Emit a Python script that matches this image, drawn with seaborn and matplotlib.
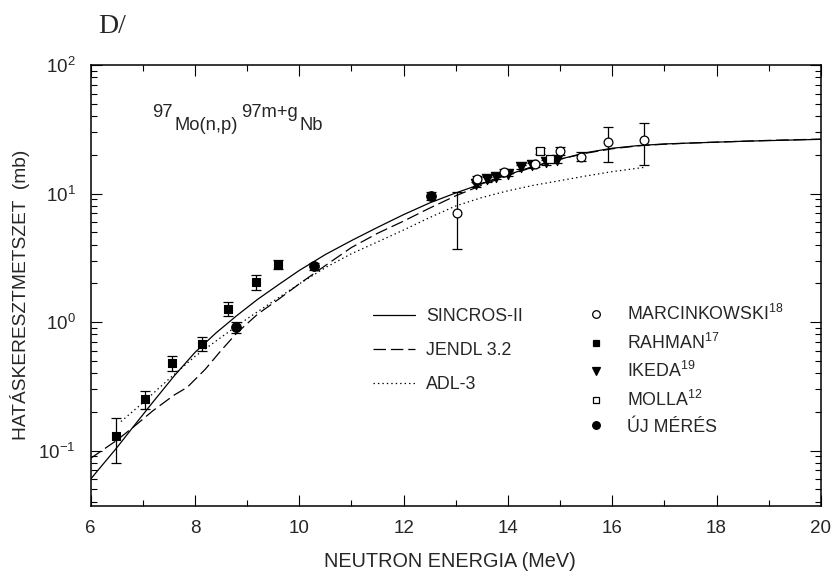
import numpy as np
import pandas as pd
import matplotlib
matplotlib.use("Agg")
import matplotlib.pyplot as plt
from matplotlib.lines import Line2D
from matplotlib.ticker import MultipleLocator, LogLocator, NullFormatter
import seaborn as sns

# ---- model curves (energy in MeV, cross section in mb) ----
sincros_e = [6.0, 6.5, 6.8, 7.2, 7.6, 8.0, 8.4, 8.8, 9.2, 9.6, 10.0, 10.5, 11.0,
             11.5, 12.0, 12.5, 13.0, 13.5, 14.0, 14.5, 15.0, 15.5, 16.0, 16.5,
             17.0, 17.5, 18.0, 18.5, 19.0, 19.5, 20.0]
sincros_s = [0.060, 0.105, 0.15, 0.24, 0.38, 0.58, 0.82, 1.12, 1.50, 1.95, 2.52,
             3.35, 4.3, 5.45, 6.85, 8.45, 10.1, 11.9, 14.0, 16.3, 18.5, 20.8, 22.5,
             23.6, 24.3, 24.7, 25.1, 25.5, 25.8, 26.1, 26.4]

jendl_e = [6.0, 6.5, 6.8, 7.2, 7.6, 7.85, 8.2, 8.5, 8.8, 9.2, 9.6, 10.0, 10.5,
           11.0, 11.5, 12.0, 12.5, 13.0, 13.5, 14.0, 14.5, 15.0, 15.5, 16.0,
           16.5, 17.0, 17.5, 18.0, 18.5, 19.0, 19.5, 20.0]
jendl_s = [0.087, 0.120, 0.15, 0.205, 0.27, 0.31, 0.43, 0.60, 0.82, 1.15, 1.50,
           1.98, 2.75, 3.8, 4.9, 6.1, 7.7, 9.6, 11.6, 13.8, 16.2, 18.5, 20.6,
           22.3, 23.5, 24.2, 24.7, 25.1, 25.5, 25.9, 26.2, 26.5]

adl_e = [6.58, 7.0, 7.5, 8.0, 8.5, 9.0, 9.5, 10.0, 10.5, 11.0, 11.5, 12.0, 12.5,
         13.0, 13.5, 14.0, 14.5, 15.0, 15.5, 16.0, 16.63]
adl_s = [0.168, 0.235, 0.36, 0.54, 0.76, 1.06, 1.45, 1.98, 2.65, 3.4, 4.2, 5.2,
         6.5, 8.0, 9.3, 10.5, 11.6, 12.6, 13.7, 14.8, 16.0]

# ---- measurements ----
marc_e = [13.02, 13.40, 13.92, 14.52, 15.00, 15.40, 15.91, 16.61]
marc_s = [7.0, 12.9, 14.6, 16.9, 21.5, 19.4, 25.3, 26.0]
marc_err = [3.3, 0.8, 0.8, 0.8, 1.5, 1.5, 7.8, 9.2]

rahman_e = [6.48, 7.04, 7.56, 8.13, 8.64, 9.17, 9.59]
rahman_s = [0.130, 0.250, 0.479, 0.679, 1.27, 2.05, 2.80]
rahman_err = [0.05, 0.04, 0.06, 0.08, 0.15, 0.28, 0.23]

ikeda_e = [13.38, 13.59, 13.77, 14.01, 14.25, 14.47, 14.73, 14.95]
ikeda_s = [11.8, 12.9, 13.5, 14.3, 16.1, 16.6, 17.5, 18.2]
ikeda_err = [0.6, 0.6, 0.6, 0.7, 0.7, 0.8, 0.8, 0.8]

molla_e = [14.62, 14.81]
molla_s = [21.5, 18.4]
molla_err = [1.2, 0.9]

uj_e = [8.78, 10.28, 12.52]
uj_s = [0.91, 2.72, 9.53]
uj_err = [0.09, 0.18, 0.7]

# ---- style ----
sns.set_style("ticks")
plt.rcParams["font.family"] = ["Liberation Sans", "DejaVu Sans"]
plt.rcParams["mathtext.fontset"] = "custom"
plt.rcParams["mathtext.rm"] = "Liberation Sans"
plt.rcParams["mathtext.it"] = "Liberation Sans:italic"
plt.rcParams["mathtext.bf"] = "Liberation Sans:bold"
plt.rcParams["lines.scale_dashes"] = False
plt.rcParams["axes.unicode_minus"] = False

fig = plt.figure(figsize=(8.35, 5.82), dpi=100)
ax = fig.add_axes([0.1086, 0.1306, 0.8744, 0.7577])
ax.set_yscale("log")

LW = 0.9
DASH = (0, (9, 3.5))
DOT = (0, (1, 2.2))

sns.lineplot(x=sincros_e, y=sincros_s, ax=ax, color="k", lw=LW,
             linestyle="-", sort=True, estimator=None)
sns.lineplot(x=jendl_e, y=jendl_s, ax=ax, color="k", lw=LW,
             linestyle=DASH, sort=True, estimator=None)
sns.lineplot(x=adl_e, y=adl_s, ax=ax, color="k", lw=LW,
             linestyle=DOT, sort=True, estimator=None)

err_kw = dict(fmt="none", ecolor="k", elinewidth=0.9, capsize=3.6,
              capthick=0.9, zorder=3)
for e, s, d in [(marc_e, marc_s, marc_err), (rahman_e, rahman_s, rahman_err),
                (ikeda_e, ikeda_s, ikeda_err), (molla_e, molla_s, molla_err),
                (uj_e, uj_s, uj_err)]:
    ax.errorbar(e, s, yerr=d, **err_kw)

sns.scatterplot(x=rahman_e, y=rahman_s, ax=ax, marker="s", s=40,
                color="k", edgecolor="k", linewidth=0.8, zorder=4)
sns.scatterplot(x=uj_e, y=uj_s, ax=ax, marker="o", s=48,
                color="k", edgecolor="k", linewidth=0.8, zorder=4)
sns.scatterplot(x=ikeda_e, y=ikeda_s, ax=ax, marker="v", s=55,
                color="k", edgecolor="k", linewidth=0.8, zorder=4)
sns.scatterplot(x=marc_e, y=marc_s, ax=ax, marker="o", s=40,
                color="white", edgecolor="k", linewidth=0.9, zorder=5)
sns.scatterplot(x=molla_e, y=molla_s, ax=ax, marker="s", s=36,
                color="white", edgecolor="k", linewidth=0.9, zorder=5)

# ---- axes ----
ax.set_xlim(6, 20)
ax.set_ylim(0.037, 100)
ax.xaxis.set_major_locator(MultipleLocator(2))
ax.xaxis.set_minor_locator(MultipleLocator(1))
ax.yaxis.set_major_locator(LogLocator(base=10, subs=(1.0,)))
ax.yaxis.set_minor_locator(LogLocator(base=10, subs=np.arange(2, 10)))
ax.yaxis.set_minor_formatter(NullFormatter())
ax.tick_params(which="both", direction="in", top=True, right=True,
               width=0.8, color="k")
ax.tick_params(which="major", length=8)
ax.tick_params(which="minor", length=4.3)
ax.tick_params(axis="x", which="major", pad=10, labelsize=13.5)
ax.tick_params(axis="y", which="major", pad=11, labelsize=13.5)
for sp in ax.spines.values():
    sp.set_visible(True)
    sp.set_linewidth(1.1)
    sp.set_color("k")

ax.set_xlabel("NEUTRON ENERGIA (MeV)", fontsize=14.3, va="center")
ax.xaxis.set_label_coords(0.492, -0.127)
ax.set_ylabel("HATÁSKERESZTMETSZET  (mb)", fontsize=13.8, va="center")
ax.yaxis.set_label_coords(-0.0968, 0.478)

# ---- reaction label ----
FS = 13.2
t1 = ax.text(0.084, 0.873, "97", transform=ax.transAxes, fontsize=FS,
             va="bottom", ha="left")
t2 = ax.annotate("Mo(n,p)", xy=(1, 0), xycoords=t1, xytext=(1.5, -9.6),
                 textcoords="offset points", fontsize=FS, va="bottom", ha="left")
t3 = ax.annotate("97m+g", xy=(1, 0), xycoords=t2, xytext=(2.5, 9.6),
                 textcoords="offset points", fontsize=FS, va="bottom", ha="left")
ax.annotate("Nb", xy=(1, 0), xycoords=t3, xytext=(1.0, -9.6),
            textcoords="offset points", fontsize=FS, va="bottom", ha="left")

fig.text(98 / 835, 1 - 33 / 582, "D/", fontsize=20, va="baseline",
         family=["Liberation Serif", "DejaVu Serif"])

# ---- legends ----
line_handles = [
    Line2D([], [], color="k", lw=LW, linestyle="-"),
    Line2D([], [], color="k", lw=LW, linestyle=DASH),
    Line2D([], [], color="k", lw=LW, linestyle=DOT),
]
leg1 = ax.legend(line_handles, ["SINCROS-II", "JENDL 3.2", "ADL-3"],
                 loc="upper left", bbox_to_anchor=(0.387, 0.448),
                 frameon=False, fontsize=12.8, handlelength=2.36,
                 handletextpad=0.62, labelspacing=0.95, borderpad=0,
                 borderaxespad=0)
ax.add_artist(leg1)

mk = dict(linestyle="none", mec="k", mew=0.9)
marker_handles = [
    Line2D([], [], marker="o", ms=5.5, mfc="white", **mk),
    Line2D([], [], marker="s", ms=5.0, mfc="k", **mk),
    Line2D([], [], marker="v", ms=5.5, mfc="k", **mk),
    Line2D([], [], marker="s", ms=4.5, mfc="white", **mk),
    Line2D([], [], marker="o", ms=5.5, mfc="k", **mk),
]
marker_labels = [r"MARCINKOWSKI$^{18}$", r"RAHMAN$^{17}$", r"IKEDA$^{19}$",
                 r"MOLLA$^{12}$", "ÚJ MÉRÉS"]
ax.legend(marker_handles, marker_labels, loc="upper left",
          bbox_to_anchor=(0.680, 0.458), frameon=False, fontsize=12.8,
          handlelength=1.0, handletextpad=1.24, labelspacing=0.48,
          borderpad=0, borderaxespad=0)

fig.savefig("out.png", dpi=100)
